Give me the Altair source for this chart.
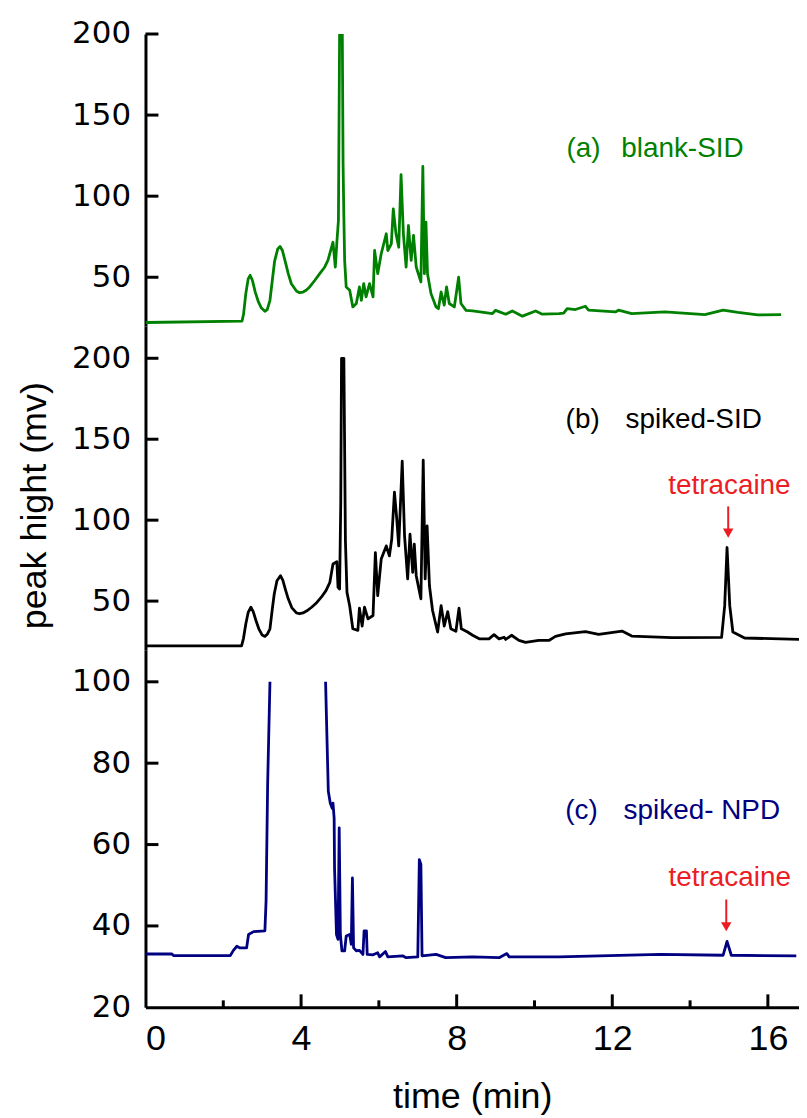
import altair as alt
import pandas as pd

# ---------------- data ----------------
# (a) blank-SID, green
a_time = [0, 2.48, 2.52, 2.58, 2.64, 2.69, 2.75, 2.82, 2.9, 2.98, 3.07, 3.13, 3.2, 3.26, 3.32,
          3.4, 3.46, 3.52, 3.6, 3.67, 3.75, 3.88, 3.96, 4.05, 4.13, 4.22, 4.35, 4.48, 4.6,
          4.69, 4.82, 4.88, 4.92, 4.96, 4.99, 5.06, 5.08, 5.1, 5.12, 5.16, 5.25,
          5.33, 5.42, 5.5, 5.55, 5.61, 5.67, 5.76, 5.85, 5.89, 5.97, 6.06, 6.19, 6.23, 6.32, 6.37,
          6.44, 6.51, 6.57, 6.63, 6.7, 6.76, 6.83, 6.89, 6.96, 7.08, 7.13, 7.17, 7.21, 7.25, 7.34,
          7.47, 7.53, 7.6, 7.68, 7.74, 7.81, 7.94, 8.05, 8.11, 8.24, 8.41, 8.92, 9.0, 9.26, 9.43,
          9.69, 10.03, 10.2, 10.63, 10.75, 10.84, 11.05, 11.31, 11.39, 12.08, 12.16, 12.5, 13.35,
          14.38, 14.85, 15.23, 15.74, 16.34]
a_value = [22.1, 22.9, 27, 40, 49, 51.2, 48, 41, 35, 31, 29, 30, 35.8, 48, 60,
           67.5, 69, 66.5, 59, 52.2, 46, 41.5, 40.5, 40.9, 42, 44, 48, 52.2, 56,
           60.4, 71.6, 56.3, 71.6, 85, 200, 200, 119.8, 87, 60.4, 44, 42,
           31.7, 33.8, 44, 35.8, 46.1, 37.9, 46.1, 37.9, 66.5, 52.2, 64.5, 76.8, 66.5, 70.6, 92.1,
           76.8, 68.5, 113.2, 76.8, 56.3, 81.9, 60.4, 75.8, 56.3, 47.1, 118.3, 52.2, 84, 52.2, 39.9,
           31.7, 30.6, 40.9, 32.8, 44, 33.8, 31.7, 50.1, 33.8, 29.6, 29.2, 27.6, 29.6, 27.2, 29.2,
           26, 29.2, 27.2, 27.6, 27.9, 30.7, 30.1, 32.1, 29.7, 28.6, 29.7, 27.6, 28.6,
           27, 29.7, 28.3, 26.8, 27]

# (b) spiked-SID, black
b_time = [0, 2.47, 2.52, 2.58, 2.64, 2.71, 2.77, 2.84, 2.92, 3.0, 3.07, 3.13, 3.2, 3.26, 3.31,
          3.38, 3.47, 3.53, 3.6, 3.67, 3.76, 3.88, 3.96, 4.05, 4.15, 4.27, 4.4, 4.52, 4.64,
          4.74, 4.82, 4.92, 4.95, 4.99, 5.02, 5.04, 5.1, 5.14, 5.18, 5.25, 5.33,
          5.46, 5.5, 5.57, 5.63, 5.72, 5.85, 5.91, 5.97, 6.06, 6.19, 6.27, 6.33, 6.4, 6.46, 6.51,
          6.6, 6.66, 6.74, 6.8, 6.87, 6.91, 6.96, 7.08, 7.14, 7.19, 7.24, 7.3, 7.38, 7.51, 7.6,
          7.68, 7.77, 7.85, 7.98, 8.06, 8.12, 8.28, 8.41, 8.58, 8.83, 8.96, 9.09, 9.22, 9.26, 9.41,
          9.6, 9.77, 10.11, 10.37, 10.54, 10.8, 11.31, 11.65, 12.25, 12.5, 13.53, 14.81, 14.89,
          14.95, 15.02, 15.1, 15.4, 16.95]
b_value = [22.3, 22.3, 27, 36, 43, 46.2, 43.5, 38, 32.5, 29, 28.2, 29.5, 32.9, 45, 54.4,
           62.6, 65.7, 63, 57, 51.4, 46, 42.7, 42.2, 42.7, 44, 46.2, 49, 52.4, 56.5,
           61.6, 72.9, 74.3, 58.5, 57.5, 110.8, 200, 200, 87.2, 55.4, 47, 32.9,
           31.9, 45.6, 34.6, 46.2, 39, 41.1, 80, 53.4, 76, 84.1, 77.9, 88.2, 117.3, 100.6, 84.1,
           136.4, 90.3, 63.7, 91.3, 67.8, 85.2, 65.7, 51.4, 137, 63.7, 96.4, 59.5, 44.2, 30.9, 47.2,
           34.6, 43.5, 32.9, 31.3, 45.6, 32.9, 30.9, 28.9, 26.7, 26.7, 29.3, 26.7, 27.7, 26.3, 28.9,
           25.7, 24.5, 25.7, 25.7, 28.2, 29.8, 31.2, 29.5, 31.5, 28.4, 27.4, 27.6, 47.2,
           83.1, 47.2, 30.9, 27.2, 26.3]

# (c) spiked- NPD, navy: two pieces, the trace leaves the scale between them
c1_time = [0, 0.68, 0.72, 2.18, 2.26, 2.35, 2.43, 2.6, 2.65, 2.78, 3.07, 3.1, 3.14, 3.2]
c1_value = [33.1, 33.1, 32.7, 32.7, 34, 35, 34.6, 34.6, 37.9, 38.6, 38.8, 46.1, 74.7, 100]
c2_time = [4.63, 4.67, 4.7, 4.75, 4.8, 4.82, 4.85, 4.86, 4.91, 4.95, 4.98, 5.01, 5.05, 5.12,
           5.16, 5.25, 5.29, 5.32, 5.35, 5.42, 5.5, 5.59, 5.62, 5.68, 5.7, 5.85, 5.97, 6.02, 6.17,
           6.23, 6.61, 6.7, 7.0, 7.04, 7.08, 7.11, 7.47, 7.72, 8.41, 9.09, 9.29, 9.35, 10.63,
           13.23, 14.85, 14.95, 15.06, 16.73]
c2_value = [100, 84.5, 73.1, 70.2, 68.9, 70.2, 66.5, 54.3, 37.9, 36.7, 64.1, 37.9, 33.9, 33.9,
            37.5, 37.9, 35.5, 51.8, 34.6, 33.9, 34, 33, 38.8, 38.8, 33, 32.9, 33.4, 32.4, 33.7,
            32.4, 32.65, 32.2, 32.4, 56.3, 55.1, 32.65, 33, 32.2, 32.4, 32.2, 33.2, 32.4, 32.4,
            33, 32.8, 36.2, 32.8, 32.65]

# axis tick values
x_labels = [0, 4, 8, 12, 16]
x_major = [4, 8, 12, 16]
x_minor = [2, 6, 10, 14]
a_ticks = [50, 100, 150, 200]
b_ticks = [50, 100, 150, 200]
c_ticks = [20, 40, 60, 80, 100]

# ---------------- style ----------------
GREEN = "#008000"
NAVY = "#000080"
RED = "#ec1c24"
FONT = "Liberation Sans, Arial, sans-serif"
YFONT = "DejaVu Sans"
X_DOMAIN = [0, 16.8]
W = 656


def panel(df, color, ydom, yticks, h, texts, arrows, ytitle=None, xaxis=False):
    xs = alt.Scale(domain=X_DOMAIN, nice=False, zero=False)
    ys = alt.Scale(domain=ydom, nice=False, zero=False)
    yax_kw = dict(values=yticks, ticks=False, tickSize=0, labelPadding=15, grid=False,
                  domainWidth=3, domainColor="black", labelFont=YFONT, labelFontSize=31,
                  labelColor="black", labelBaseline="middle")
    if ytitle:
        yax = alt.Axis(title=ytitle, titleX=-92, titleY=180, titleAngle=270,
                       titleBaseline="bottom", titleAlign="center", titleFont=FONT,
                       titleFontSize=36, titleFontWeight="normal", titleColor="black", **yax_kw)
    else:
        yax = alt.Axis(title=None, **yax_kw)
    if xaxis:
        xax = alt.Axis(values=x_labels, title="time (min)", ticks=False, tickSize=0,
                       labelPadding=14, grid=False, domainWidth=3, domainColor="black",
                       labelFont=FONT, labelFontSize=36, labelColor="black",
                       titleFont=FONT, titleFontSize=36, titleFontWeight="normal",
                       titleColor="black", titlePadding=24, format="d")
    else:
        xax = None
    X = lambda f: alt.X(f, scale=xs, axis=xax)
    Y = lambda f: alt.Y(f, scale=ys, axis=yax)

    layers = []
    layers.append(alt.Chart(df).mark_line(color=color, strokeWidth=2.8, clip=True,
                                          strokeJoin="round").encode(
        x=X("t:Q"), y=Y("v:Q"), detail="seg:N"))

    tdf = pd.DataFrame({"v": [t for t in yticks if t > ydom[0]]})
    layers.append(alt.Chart(tdf).mark_rule(color="black", strokeWidth=3).encode(
        x=alt.value(0), x2=alt.value(13), y=Y("v:Q")))

    if xaxis:
        mj = pd.DataFrame({"t": x_major})
        mn = pd.DataFrame({"t": x_minor})
        layers.append(alt.Chart(mj).mark_rule(color="black", strokeWidth=3).encode(
            x=X("t:Q"), y=alt.value(h), y2=alt.value(h - 13)))
        layers.append(alt.Chart(mn).mark_rule(color="black", strokeWidth=3).encode(
            x=X("t:Q"), y=alt.value(h), y2=alt.value(h - 7)))

    for (tt, vv, txt, col, align) in texts:
        d = pd.DataFrame({"t": [tt], "v": [vv], "label": [txt]})
        layers.append(alt.Chart(d).mark_text(font=FONT, fontSize=28, color=col, align=align,
                                             baseline="middle").encode(
            x=X("t:Q"), y=Y("v:Q"), text="label:N"))

    for (tt, v_top, v_head) in arrows:
        d = pd.DataFrame({"t": [tt], "v": [v_top], "v2": [v_head]})
        layers.append(alt.Chart(d).mark_rule(color=RED, strokeWidth=2).encode(
            x=X("t:Q"), y=Y("v:Q"), y2="v2:Q"))
        layers.append(alt.Chart(d).mark_point(shape="triangle-down", filled=True, color=RED,
                                              size=110, opacity=1).encode(
            x=X("t:Q"), y=Y("v2:Q")))

    return alt.layer(*layers).properties(width=W, height=h)


df_a = pd.DataFrame({"t": a_time, "v": a_value, "seg": "a"})
df_b = pd.DataFrame({"t": b_time, "v": b_value, "seg": "b"})
df_c = pd.concat([pd.DataFrame({"t": c1_time, "v": c1_value, "seg": "c1"}),
                  pd.DataFrame({"t": c2_time, "v": c2_value, "seg": "c2"})])

pa = panel(df_a, GREEN, [20, 200], a_ticks, 293,
           texts=[(10.82, 129.2, "(a)", GREEN, "left"), (12.23, 129.2, "blank-SID", GREEN, "left")],
           arrows=[])
pb = panel(df_b, "black", [20, 220], b_ticks, 325,
           texts=[(10.8, 162, "(b)", "black", "left"), (12.34, 162, "spiked-SID", "black", "left"),
                  (15.01, 120.8, "tetracaine", RED, "center")],
           arrows=[(14.98, 108.5, 92.0)],
           ytitle="peak hight (mv)")
pc = panel(df_c, NAVY, [20, 107.9], c_ticks, 359,
           texts=[(10.79, 68.2, "(c)", NAVY, "left"), (12.29, 68.2, "spiked- NPD", NAVY, "left"),
                  (15.02, 51.8, "tetracaine", RED, "center")],
           arrows=[(14.93, 46.5, 39.8)],
           xaxis=True)

chart = alt.vconcat(pa, pb, pc, spacing=0, bounds="flush").resolve_scale(
    y="independent"
).properties(
    padding={"left": 9, "top": 8, "right": 0, "bottom": 0},
    background="white",
).configure_view(strokeWidth=0)

chart.save("out.html", embed_options={"renderer": "svg", "actions": False})
